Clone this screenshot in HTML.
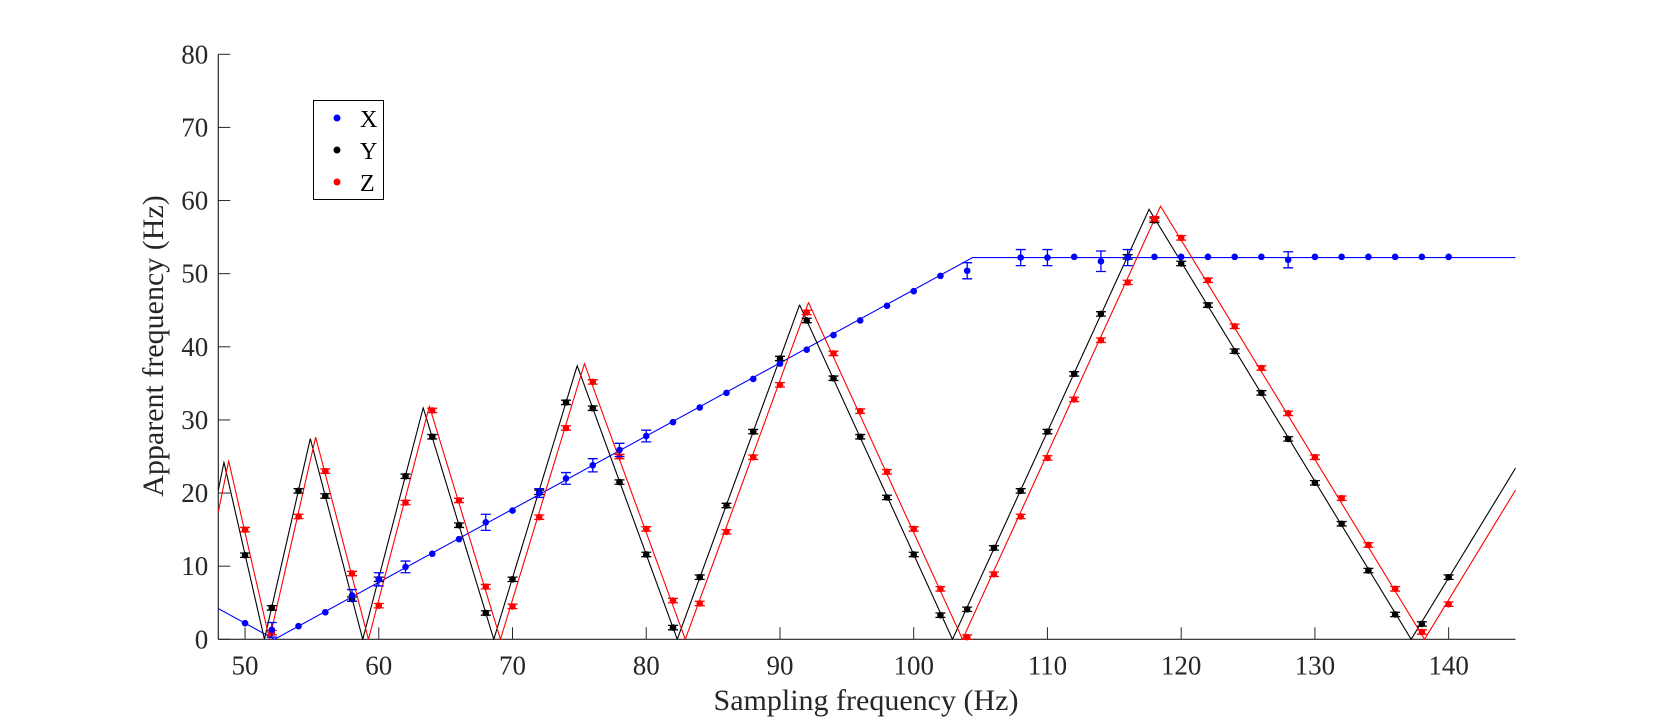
<!DOCTYPE html>
<html><head><meta charset="utf-8"><style>
body{margin:0;background:#fff}
svg{display:block;font-family:"Liberation Serif",serif}
</style></head><body>
<svg id="chart" width="1675" height="723" viewBox="0 0 1675 723" xmlns="http://www.w3.org/2000/svg">
<defs><clipPath id="clip"><rect x="218" y="54" width="1298" height="586"/></clipPath></defs>
<g id="axes"></g>
<g id="lines" clip-path="url(#clip)"></g>
<g id="points"></g>
<text x="866" y="710" font-size="30" text-anchor="middle" fill="#262626">Sampling frequency (Hz)</text>
<text transform="translate(163,346) rotate(-90)" font-size="30" text-anchor="middle" fill="#262626">Apparent frequency (Hz)</text>
<g>
<rect x="313.5" y="100.5" width="70" height="99" fill="#fff" stroke="#000" stroke-width="1"/>
<g><circle cx="337" cy="118" r="3.5" fill="#0000ff"/><text x="360" y="127" font-size="24">X</text></g>
<g><circle cx="337" cy="150" r="3.5" fill="#000"/><text x="360" y="159" font-size="24">Y</text></g>
<g><circle cx="337" cy="182" r="3.5" fill="#ff0000"/><text x="360" y="191" font-size="24">Z</text></g>
</g>
</svg>
<script>
const xTicks=[50,60,70,80,90,100,110,120,130,140];
const yTicks=[0,10,20,30,40,50,60,70,80];
const trueFreqX=52.2, trueFreqY=411.6, trueFreqZ=414.6;
const fsX=[50,52,54,56,58,60,62,64,66,68,70,72,74,76,78,80,82,84,86,88,90,92,94,96,98,100,102,104,108,110,112,114,116,118,120,122,124,126,128,130,132,134,136,138,140];
const valX=[2.2,1.3,1.8,3.7,6,8.2,9.9,11.7,13.7,16,17.6,20,22,23.8,25.9,27.8,29.7,31.7,33.7,35.6,37.7,39.6,41.6,43.6,45.6,47.6,49.7,50.4,52.2,52.2,52.3,51.7,52.2,52.3,52.3,52.3,52.3,52.3,51.9,52.3,52.3,52.3,52.3,52.3,52.3];
const errX=[0,1,0,0,0.8,0.9,0.8,0,0,1.1,0,0.6,0.8,0.9,0.9,0.8,0,0,0,0,0,0,0,0,0,0,0,1.1,1.1,1.1,0,1.4,1.1,0,0,0,0,0,1.1,0,0,0,0,0,0];
const fsYZ=[50,52,54,56,58,60,62,64,66,68,70,72,74,76,78,80,82,84,86,88,90,92,94,96,98,100,102,104,106,108,110,112,114,116,118,120,122,124,126,128,130,132,134,136,138,140];
const valY=[11.5,4.3,20.3,19.6,5.5,8.2,22.3,27.7,15.6,3.6,8.2,20.1,32.4,31.6,21.5,11.6,1.6,8.5,18.3,28.4,38.4,43.6,35.7,27.7,19.4,11.6,3.3,4.1,12.5,20.3,28.4,36.3,44.5,52.3,57.3,51.4,45.7,39.4,33.7,27.4,21.4,15.8,9.4,3.4,2.1,8.5];
const valZ=[15,0.9,16.8,23,9,4.6,18.7,31.3,19,7.2,4.5,16.7,28.9,35.2,25,15.1,5.3,4.9,14.7,24.9,34.8,44.7,39.1,31.2,22.9,15.1,6.9,0.3,8.9,16.8,24.8,32.8,40.9,48.8,57.5,54.9,49.1,42.8,37.1,30.9,24.9,19.3,12.9,6.9,1,4.8];

const NS='http://www.w3.org/2000/svg';
const X0=218.3,X1=1515.5,XMIN=48,XMAX=145,Y0=639.3,Y1=54.3,YMAX=80;
const sx=v=>X0+(v-XMIN)*(X1-X0)/(XMAX-XMIN);
const sy=v=>Y0-v*(Y0-Y1)/YMAX;
function mk(tag,attrs,parent){const e=document.createElementNS(NS,tag);for(const k in attrs)e.setAttribute(k,attrs[k]);parent.appendChild(e);return e;}
const axes=document.getElementById('axes');
let l=mk('line',{x1:X0,y1:Y0,x2:X1,y2:Y0,stroke:'#262626','stroke-width':1.2},axes);


l=mk('line',{x1:X0,y1:Y0,x2:X0,y2:Y1,stroke:'#262626','stroke-width':1.2},axes);


xTicks.forEach(t=>{
  const x=sx(t);
  const tk=mk('line',{x1:x,y1:Y0,x2:x,y2:Y0-12,stroke:'#262626'},axes);
  
  
  const tx=mk('text',{x:x,y:Y0+35,'font-size':27,'text-anchor':'middle',fill:'#262626'},axes);
  tx.textContent=t;
  
  
});
yTicks.forEach(t=>{
  const y=sy(t);
  const tk=mk('line',{x1:X0,y1:y,x2:X0+12,y2:y,stroke:'#262626'},axes);
  
  
  const tx=mk('text',{x:X0-10,y:y+9,'font-size':27,'text-anchor':'end',fill:'#262626'},axes);
  tx.textContent=t;
  
  
});
function alias(f,fs){return Math.abs(f-Math.round(f/fs)*fs);}
const lines=document.getElementById('lines');
[[trueFreqX,'#0000ff','model-line-x'],[trueFreqY,'#000','model-line-y'],[trueFreqZ,'#ff0000','model-line-z']].forEach(([f,c,n])=>{
  let d='';
  for(let fs=XMIN;fs<=XMAX+0.001;fs+=0.02){d+=(d?'L':'M')+sx(fs).toFixed(2)+','+sy(alias(f,fs)).toFixed(2);}
  const p=mk('path',{d:d,fill:'none',stroke:c,'stroke-width':1.1},lines);
  
  
});
const pts=document.getElementById('points');
function series(fsArr,vals,errs,c,n){
  fsArr.forEach((fs,i)=>{
    const x=sx(fs),y=sy(vals[i]);
    const e=errs?errs[i]:0.3;
    if(e>0){
      const g=mk('path',{d:`M${x},${sy(vals[i]-e)}L${x},${sy(vals[i]+e)}M${x-5},${sy(vals[i]-e)}L${x+5},${sy(vals[i]-e)}M${x-5},${sy(vals[i]+e)}L${x+5},${sy(vals[i]+e)}`,stroke:c,'stroke-width':1.3,fill:'none'},pts);
      
      
    }
    const p=mk('circle',{cx:x,cy:y,r:3.3,fill:c},pts);
    
    
  });
}
series(fsYZ,valY,null,'#000','y');
series(fsYZ,valZ,null,'#ff0000','z');
series(fsX,valX,errX,'#0000ff','x');
</script>
</body></html>
